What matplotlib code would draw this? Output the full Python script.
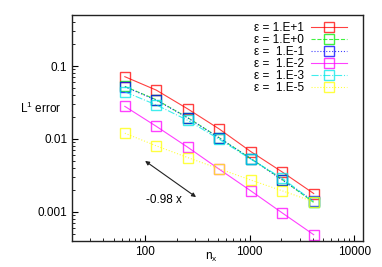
import matplotlib.pyplot as plt
import numpy as np

plt.rcParams['font.family'] = ['Liberation Sans', 'DejaVu Sans']

# Data
n_x = [64, 128, 256, 512, 1024, 2048, 4096]
labels = ['ε = 1.E+1', 'ε = 1.E+0', 'ε =  1.E-1', 'ε =  1.E-2', 'ε =  1.E-3', 'ε =  1.E-5']
err_e1 = [0.0714, 0.0467, 0.0258, 0.0137, 0.00673, 0.00353, 0.00179]
err_e0 = [0.0525, 0.0345, 0.0196, 0.0104, 0.00540, 0.00278, 0.00135]
err_em1 = [0.0519, 0.0340, 0.0194, 0.0103, 0.00538, 0.00274, 0.00141]
err_em2 = [0.0280, 0.0149, 0.0077, 0.00385, 0.00195, 0.00097, 0.000488]
err_em3 = [0.0443, 0.0293, 0.0180, 0.0099, 0.00530, 0.00289, 0.00138]
err_em5 = [0.0120, 0.00805, 0.00556, 0.0039, 0.00274, 0.00195, 0.00138]

series = [err_e1, err_e0, err_em1, err_em2, err_em3, err_em5]
colors = ['#ff0000', '#00ee00', '#0000ff', '#ff00ff', '#00e8e8', '#ffff00']
styles = ['-', '--', ':', '-', '-.', ':']

fig = plt.figure(figsize=(3.82, 2.67), dpi=100)
ax = fig.add_axes([0.1885, 0.0974, 0.7605, 0.8464])

for vals, lab, c, ls in zip(series, labels, colors, styles):
    ax.plot(n_x, vals, color=c, linestyle=ls, linewidth=0.8, alpha=0.75,
            marker='s', markersize=6.5, markerfacecolor='none',
            markeredgewidth=1.0, label=lab)

ax.set_xscale('log')
ax.set_yscale('log')
ax.set_xlim(20, 12000)
ax.set_ylim(0.0004, 0.5)

ax.set_xticks([100, 1000, 10000])
ax.set_xticklabels(['100', '1000', '10000'])
ax.set_yticks([0.001, 0.01, 0.1])
ax.set_yticklabels(['0.001', '0.01', '0.1'])
ax.tick_params(which='both', direction='in', top=False, right=False, labelsize=8.5)
ax.tick_params(which='major', length=4)
ax.tick_params(which='minor', length=2)
for sp in ax.spines.values():
    sp.set_linewidth(1.0)
    sp.set_color('#222222')

ax.text(-0.18, 0.585, 'L$^{\\mathregular{1}}$ error', transform=ax.transAxes, fontsize=8.5,
        ha='left', va='center')
ax.text(0.48, -0.075, 'n$_{\\mathregular{x}}$', transform=ax.transAxes, fontsize=8.5,
        ha='center', va='center')

# slope indicator
ax.annotate('', xy=(100, 0.0050), xytext=(307, 0.0016),
            arrowprops=dict(arrowstyle='<|-|>', color='#222222', lw=0.8,
                            mutation_scale=6, shrinkA=0, shrinkB=0))
ax.text(102, 0.00145, '-0.98 x', fontsize=8.5, ha='left', va='center')

leg = ax.legend(loc='upper right', bbox_to_anchor=(0.962, 0.989), frameon=False,
                markerfirst=False, fontsize=8.5, handlelength=3.0, labelspacing=0.0,
                borderaxespad=0.0, handletextpad=0.6)

fig.savefig('out.png', dpi=100)
